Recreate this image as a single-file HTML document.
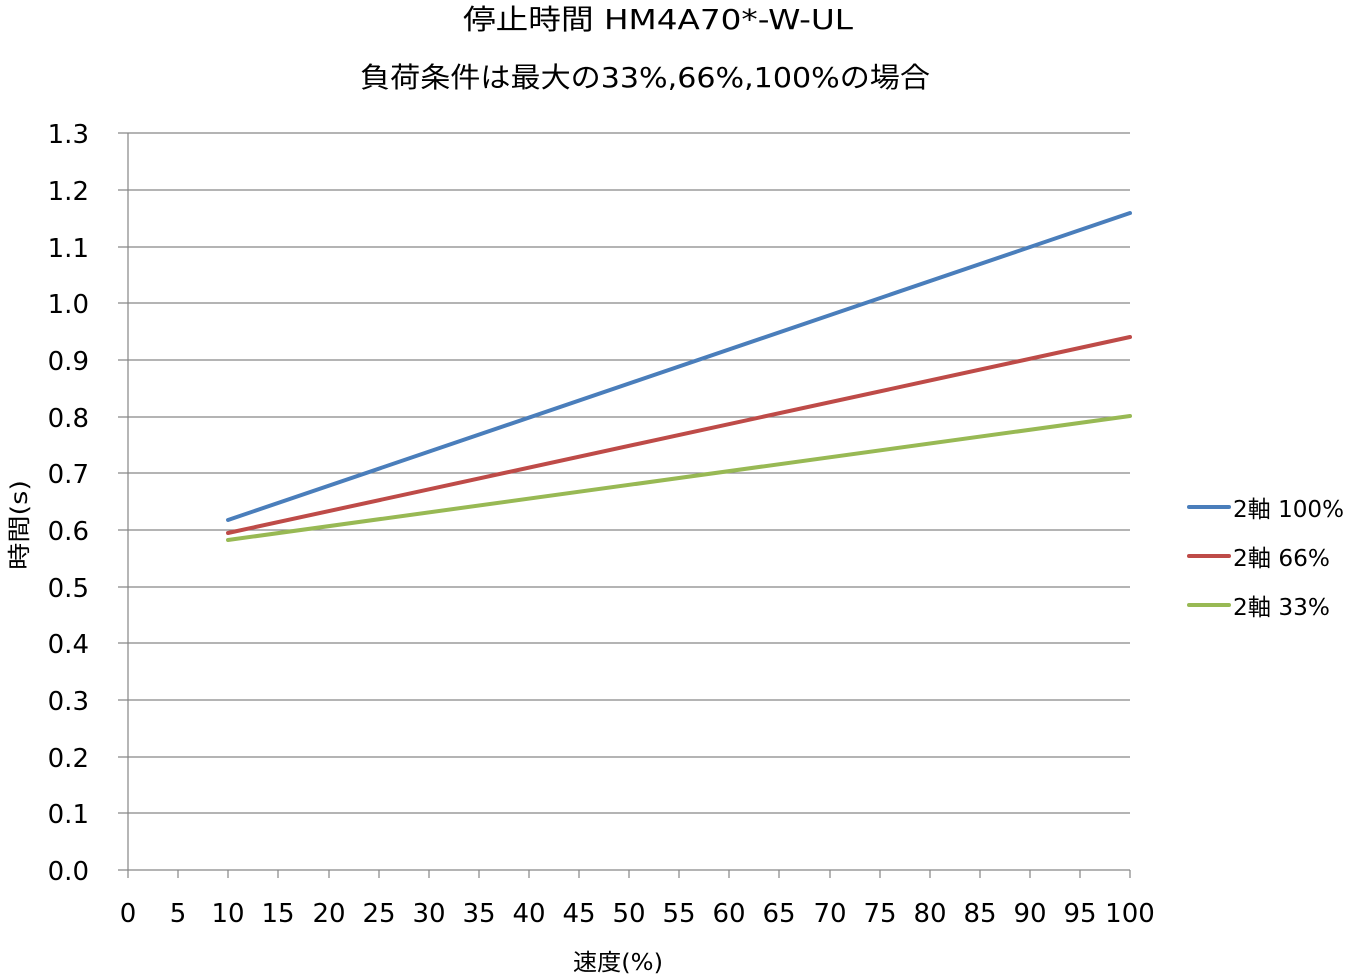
<!DOCTYPE html>
<html><head><meta charset="utf-8"><style>
body{margin:0;background:#fff;}
text{font-family:"DejaVu Sans","Noto Sans CJK JP",sans-serif;fill:#000;}
</style></head><body>
<svg width="1345" height="975" xmlns="http://www.w3.org/2000/svg">
<text x="463" y="29" font-size="28" textLength="390" lengthAdjust="spacingAndGlyphs">停止時間 HM4A70*-W-UL</text>
<text x="360" y="87" font-size="28" textLength="570" lengthAdjust="spacingAndGlyphs">負荷条件は最大の33%,66%,100%の場合</text>
<g stroke="#868686" stroke-width="1.2">
<line x1="118" y1="133" x2="1130" y2="133"/>
<line x1="118" y1="190" x2="1130" y2="190"/>
<line x1="118" y1="247" x2="1130" y2="247"/>
<line x1="118" y1="303" x2="1130" y2="303"/>
<line x1="118" y1="360" x2="1130" y2="360"/>
<line x1="118" y1="417" x2="1130" y2="417"/>
<line x1="118" y1="473" x2="1130" y2="473"/>
<line x1="118" y1="530" x2="1130" y2="530"/>
<line x1="118" y1="587" x2="1130" y2="587"/>
<line x1="118" y1="643" x2="1130" y2="643"/>
<line x1="118" y1="700" x2="1130" y2="700"/>
<line x1="118" y1="757" x2="1130" y2="757"/>
<line x1="118" y1="813" x2="1130" y2="813"/>
<line x1="118" y1="870" x2="1130" y2="870"/>
<line x1="128" y1="133" x2="128" y2="878"/>
<line x1="178" y1="870" x2="178" y2="878"/><line x1="228" y1="870" x2="228" y2="878"/>
<line x1="278" y1="870" x2="278" y2="878"/><line x1="329" y1="870" x2="329" y2="878"/>
<line x1="379" y1="870" x2="379" y2="878"/><line x1="429" y1="870" x2="429" y2="878"/>
<line x1="479" y1="870" x2="479" y2="878"/><line x1="529" y1="870" x2="529" y2="878"/>
<line x1="579" y1="870" x2="579" y2="878"/><line x1="629" y1="870" x2="629" y2="878"/>
<line x1="679" y1="870" x2="679" y2="878"/><line x1="729" y1="870" x2="729" y2="878"/>
<line x1="779" y1="870" x2="779" y2="878"/><line x1="830" y1="870" x2="830" y2="878"/>
<line x1="880" y1="870" x2="880" y2="878"/><line x1="930" y1="870" x2="930" y2="878"/>
<line x1="980" y1="870" x2="980" y2="878"/><line x1="1030" y1="870" x2="1030" y2="878"/>
<line x1="1080" y1="870" x2="1080" y2="878"/><line x1="1130" y1="870" x2="1130" y2="878"/>
</g>
<g font-size="26" text-anchor="end">
<text x="89" y="143">1.3</text><text x="89" y="200">1.2</text><text x="89" y="257">1.1</text>
<text x="89" y="313">1.0</text><text x="89" y="370">0.9</text><text x="89" y="427">0.8</text>
<text x="89" y="483">0.7</text><text x="89" y="540">0.6</text><text x="89" y="597">0.5</text>
<text x="89" y="653">0.4</text><text x="89" y="710">0.3</text><text x="89" y="767">0.2</text>
<text x="89" y="823">0.1</text><text x="89" y="880">0.0</text>
</g>
<g font-size="26" text-anchor="middle">
<text x="128" y="922">0</text><text x="178" y="922">5</text><text x="228" y="922">10</text>
<text x="278" y="922">15</text><text x="329" y="922">20</text><text x="379" y="922">25</text>
<text x="429" y="922">30</text><text x="479" y="922">35</text><text x="529" y="922">40</text>
<text x="579" y="922">45</text><text x="629" y="922">50</text><text x="679" y="922">55</text>
<text x="729" y="922">60</text><text x="779" y="922">65</text><text x="830" y="922">70</text>
<text x="880" y="922">75</text><text x="930" y="922">80</text><text x="980" y="922">85</text>
<text x="1030" y="922">90</text><text x="1080" y="922">95</text><text x="1130" y="922">100</text>
</g>
<text x="573" y="970" font-size="23" textLength="90" lengthAdjust="spacingAndGlyphs">速度(%)</text>
<text transform="translate(27,570) rotate(-90)" font-size="23" textLength="90" lengthAdjust="spacingAndGlyphs">時間(s)</text>
<g stroke-width="4" fill="none" stroke-linecap="round">
<line x1="228" y1="520" x2="1130" y2="213" stroke="#4a7ebb"/>
<line x1="228" y1="533" x2="1130" y2="337" stroke="#be4b48"/>
<line x1="228" y1="540" x2="1130" y2="416" stroke="#98b954"/>
<line x1="1189" y1="507" x2="1229" y2="507" stroke="#4a7ebb"/>
<line x1="1189" y1="556" x2="1229" y2="556" stroke="#be4b48"/>
<line x1="1189" y1="605" x2="1229" y2="605" stroke="#98b954"/>
</g>
<g font-size="23">
<text x="1233" y="517" textLength="111" lengthAdjust="spacingAndGlyphs">2軸 100%</text>
<text x="1233" y="566" textLength="97" lengthAdjust="spacingAndGlyphs">2軸 66%</text>
<text x="1233" y="615" textLength="97" lengthAdjust="spacingAndGlyphs">2軸 33%</text>
</g>
</svg>
</body></html>
